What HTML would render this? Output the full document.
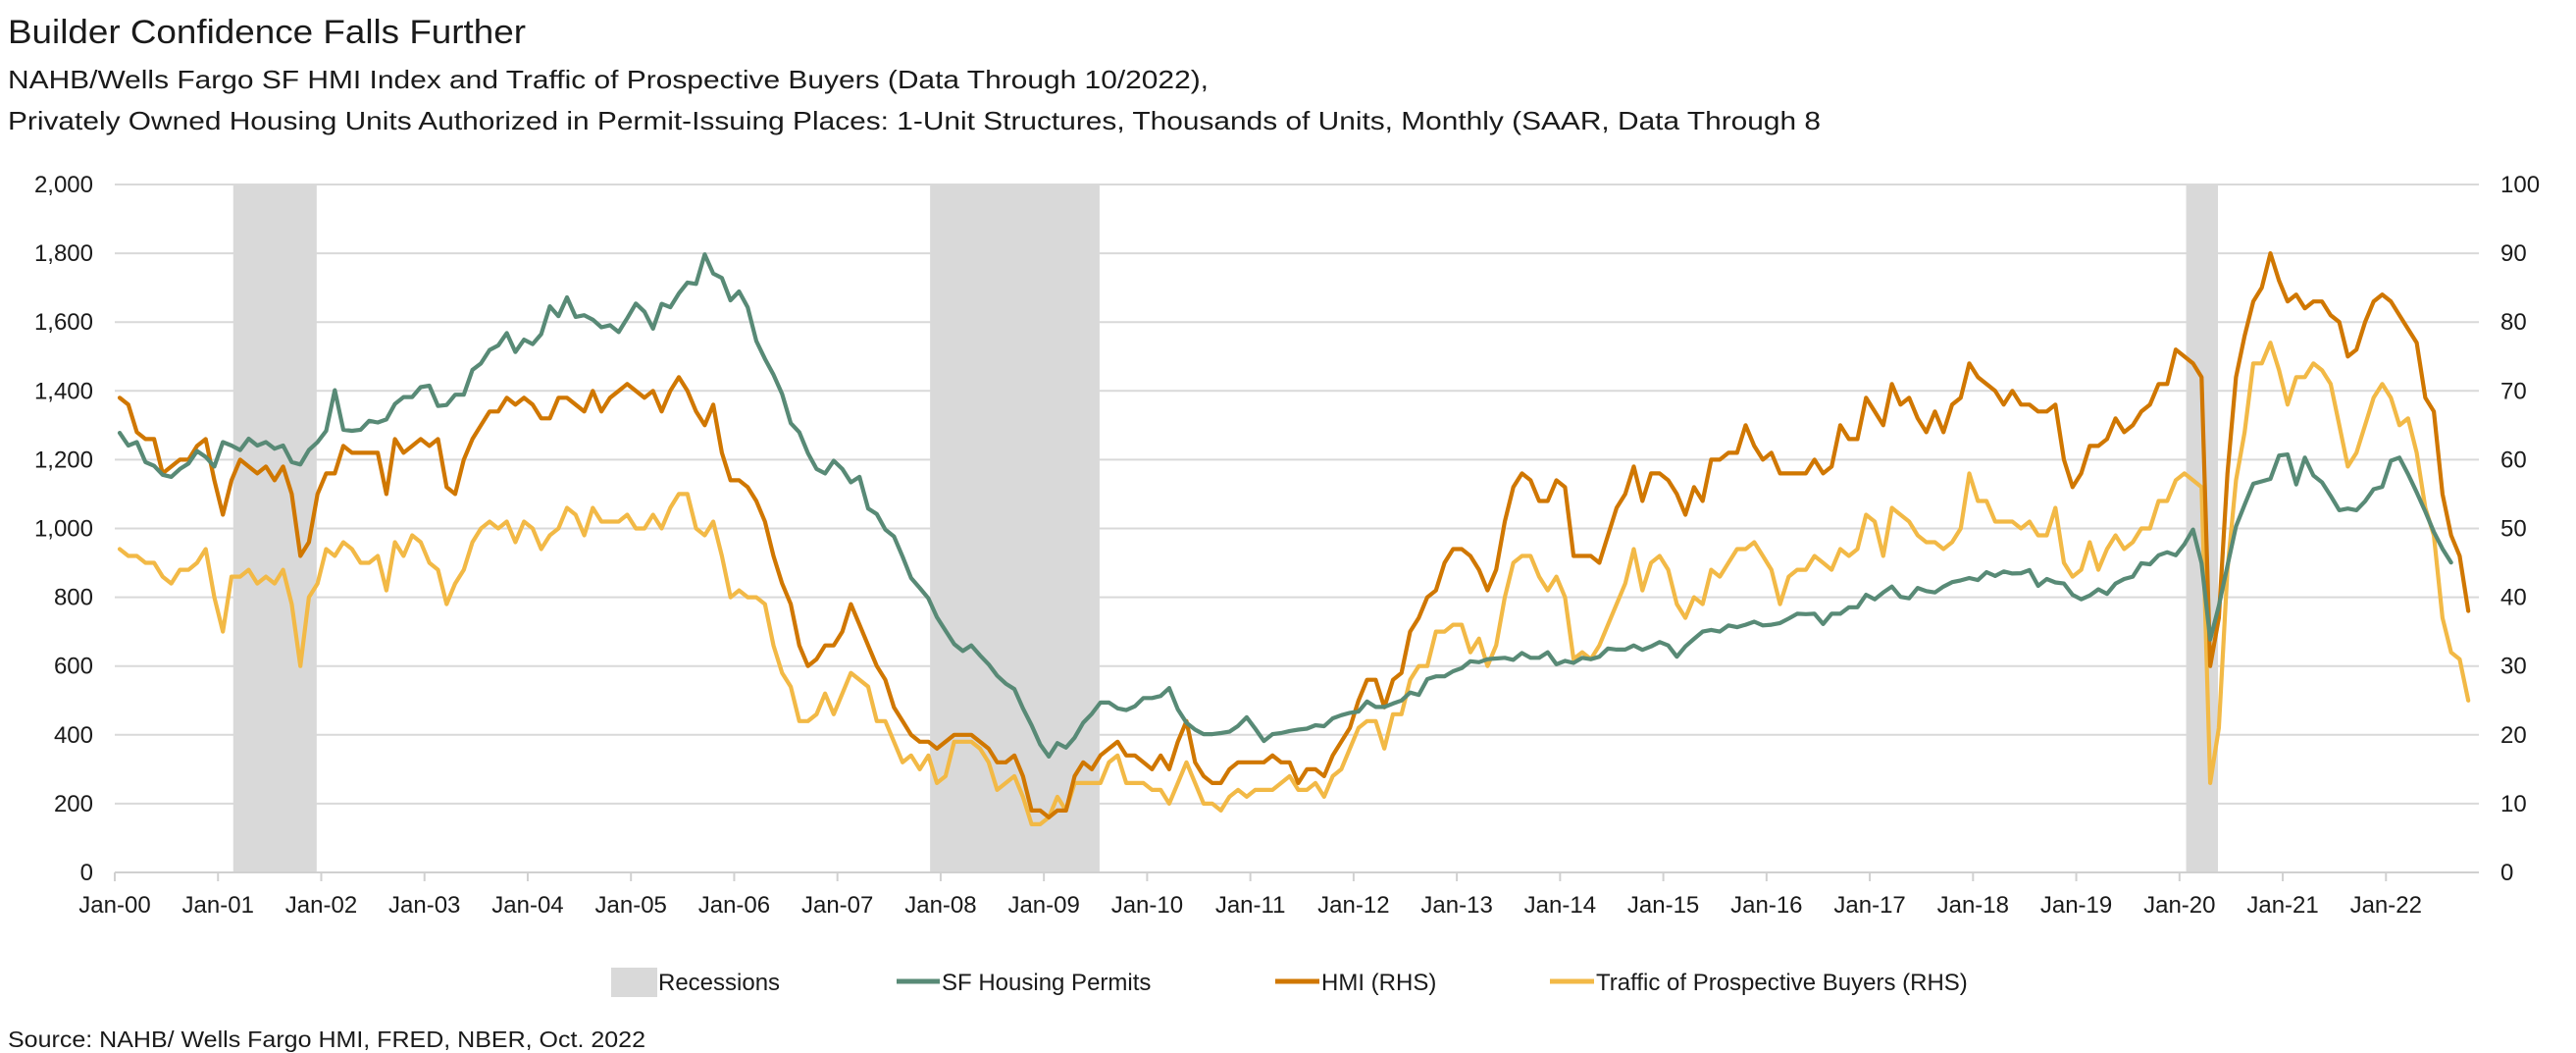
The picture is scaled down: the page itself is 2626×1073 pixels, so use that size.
<!DOCTYPE html>
<html>
<head>
<meta charset="utf-8">
<style>
html,body{margin:0;padding:0;background:#fff;}
svg{display:block;}
text{font-family:"Liberation Sans",Arial,sans-serif;fill:#1a1a1a;}
</style>
</head>
<body>
<svg id="chart" width="2626" height="1073" viewBox="0 0 2626 1073" xmlns="http://www.w3.org/2000/svg">
  <text x="8" y="44" font-size="34" textLength="528" lengthAdjust="spacingAndGlyphs">Builder Confidence Falls Further</text>
  <text x="8" y="90" font-size="26" textLength="1224" lengthAdjust="spacingAndGlyphs">NAHB/Wells Fargo SF HMI Index and Traffic of Prospective Buyers (Data Through 10/2022),</text>
  <text x="8" y="132" font-size="26" textLength="1848" lengthAdjust="spacingAndGlyphs">Privately Owned Housing Units Authorized in Permit-Issuing Places: 1-Unit Structures, Thousands of Units, Monthly (SAAR, Data Through 8</text>
  <g id="recessions"></g>
  <g id="grid"></g>
  <g id="axes"></g>
  <g id="series"></g>
  <g>
    <rect x="623" y="986" width="47" height="30" fill="#d9d9d9"/>
    <text x="671" y="1009" font-size="24">Recessions</text>
    <line x1="914" y1="1000" x2="958" y2="1000" stroke="#588a76" stroke-width="5"/>
    <text x="960" y="1009" font-size="24">SF Housing Permits</text>
    <line x1="1300" y1="1000" x2="1345" y2="1000" stroke="#d07700" stroke-width="5"/>
    <text x="1347" y="1009" font-size="24">HMI (RHS)</text>
    <line x1="1580" y1="1000" x2="1625" y2="1000" stroke="#f2b946" stroke-width="5"/>
    <text x="1627" y="1009" font-size="24">Traffic of Prospective Buyers (RHS)</text>
  </g>
  <text x="8" y="1067" font-size="23" textLength="650" lengthAdjust="spacingAndGlyphs">Source: NAHB/ Wells Fargo HMI, FRED, NBER, Oct. 2022</text>
</svg>
<script>
const leftTicks = [0,200,400,600,800,1000,1200,1400,1600,1800,2000];
const leftTickLabels = ["0","200","400","600","800","1,000","1,200","1,400","1,600","1,800","2,000"];
const rightTickLabels = ["0","10","20","30","40","50","60","70","80","90","100"];
const xTickLabels = ["Jan-00","Jan-01","Jan-02","Jan-03","Jan-04","Jan-05","Jan-06","Jan-07","Jan-08","Jan-09","Jan-10","Jan-11","Jan-12","Jan-13","Jan-14","Jan-15","Jan-16","Jan-17","Jan-18","Jan-19","Jan-20","Jan-21","Jan-22"];
const recessionStarts = [14, 95, 241];
const recessionEnds = [22, 113, 243];
const permits = [
1278,1241,1251,1193,1182,1156,1150,1173,1189,1225,1208,1180,
1251,1241,1228,1261,1241,1251,1232,1241,1193,1186,1228,1251,
1284,1402,1287,1284,1287,1313,1308,1317,1362,1382,1382,1411,
1415,1356,1359,1389,1389,1461,1480,1519,1532,1568,1513,1549,
1536,1565,1646,1617,1672,1615,1620,1607,1585,1591,1571,1611,
1654,1630,1581,1653,1643,1683,1715,1711,1797,1741,1728,1663,
1689,1643,1545,1493,1447,1391,1306,1280,1219,1173,1160,1197,
1173,1134,1150,1058,1042,997,977,918,856,827,797,742,
703,664,644,660,631,605,572,549,533,477,428,372,
337,376,363,392,435,461,494,494,477,472,483,507,
507,513,536,474,435,415,402,402,405,409,426,451,
418,382,402,405,411,415,418,428,425,448,457,464,
468,497,481,481,491,500,523,516,562,570,570,585,
594,614,611,620,622,624,618,638,624,624,640,605,
615,609,624,620,627,651,648,648,660,647,657,670,
660,627,657,679,700,705,700,718,713,720,729,718,
720,725,738,752,751,752,722,752,752,771,771,807,
794,814,831,801,797,827,818,814,831,844,849,856,
850,873,862,875,869,870,879,833,853,843,840,807,
794,805,823,810,840,853,860,899,896,922,931,922,
954,997,899,677,775,892,1006,1069,1130,1137,1144,1212,
1215,1128,1206,1154,1134,1095,1053,1058,1053,1079,1114,1121,
1197,1206,1158,1105,1049,990,941,901];
const hmi = [
69,68,64,63,63,58,59,60,60,62,63,57,
52,57,60,59,58,59,57,59,55,46,48,55,
58,58,62,61,61,61,61,55,63,61,62,63,
62,63,56,55,60,63,65,67,67,69,68,69,
68,66,66,69,69,68,67,70,67,69,70,71,
70,69,70,67,70,72,70,67,65,68,61,57,
57,56,54,51,46,42,39,33,30,31,33,33,
35,39,36,33,30,28,24,22,20,19,19,18,
19,20,20,20,19,18,16,16,17,14,9,9,
8,9,9,14,16,15,17,18,19,17,17,16,
15,17,15,19,22,16,14,13,13,15,16,16,
16,16,17,16,16,13,15,15,14,17,19,21,
25,28,28,24,28,29,35,37,40,41,45,47,
47,46,44,41,44,51,56,58,57,54,54,57,
56,46,46,46,45,49,53,55,59,54,58,58,
57,55,52,56,54,60,60,61,61,65,62,60,
61,58,58,58,58,60,58,59,65,63,63,69,
67,65,71,68,69,66,64,67,64,68,69,74,
72,71,70,68,70,68,68,67,67,68,60,56,
58,62,62,63,66,64,65,67,68,71,71,76,
75,74,72,30,37,58,72,78,83,85,90,86,
83,84,82,83,83,81,80,75,76,80,83,84,
83,81,79,77,69,67,55,49,46,38];
const traffic = [
47,46,46,45,45,43,42,44,44,45,47,40,
35,43,43,44,42,43,42,44,39,30,40,42,
47,46,48,47,45,45,46,41,48,46,49,48,
45,44,39,42,44,48,50,51,50,51,48,51,
50,47,49,50,53,52,49,53,51,51,51,52,
50,50,52,50,53,55,55,50,49,51,46,40,
41,40,40,39,33,29,27,22,22,23,26,23,
26,29,28,27,22,22,19,16,17,15,17,13,
14,19,19,19,18,16,12,13,14,11,7,7,
8,11,9,13,13,13,13,16,17,13,13,13,
12,12,10,13,16,13,10,10,9,11,12,11,
12,12,12,13,14,12,12,13,11,14,15,18,
21,22,22,18,23,23,28,30,30,35,35,36,
36,32,34,30,33,40,45,46,46,43,41,43,
40,31,32,31,33,36,39,42,47,41,45,46,
44,39,37,40,39,44,43,45,47,47,48,46,
44,39,43,44,44,46,45,44,47,46,47,52,
51,46,53,52,51,49,48,48,47,48,50,58,
54,54,51,51,51,50,51,49,49,53,45,43,
44,48,44,47,49,47,48,50,50,54,54,57,
58,57,56,13,21,44,57,64,74,74,77,73,
68,72,72,74,73,71,65,59,61,65,69,71,
69,65,66,61,53,49,37,32,31,25];

const NS = "http://www.w3.org/2000/svg";
const PL = 117, PR = 2527, PT = 188, PB = 889, X0 = 122, DX = 8.77;
function xM(i){ return X0 + i*DX; }
function yL(v){ return PB - (v/2000)*(PB-PT); }
function yR(v){ return PB - (v/100)*(PB-PT); }
function mk(tag, attrs, parent){
  const e = document.createElementNS(NS, tag);
  for (const k in attrs) e.setAttribute(k, attrs[k]);
  parent.appendChild(e);
  return e;
}
const gRec = document.getElementById('recessions');
for (let r=0; r<recessionStarts.length; r++){
  const x1 = xM(recessionStarts[r]-0.8), x2 = xM(recessionEnds[r]+0.9);
  const el = mk('rect', {x:x1, y:PT, width:x2-x1, height:PB-PT, fill:'#d9d9d9'}, gRec);
  
  
}
const gGrid = document.getElementById('grid');
const gAx = document.getElementById('axes');
for (let k=0; k<leftTicks.length; k++){
  const y = yL(leftTicks[k]);
  if (k>0){
    const gl = mk('line', {x1:PL, x2:PR, y1:y, y2:y, stroke:'#d9d9d9', 'stroke-width':2}, gGrid);
    
    
  }
  const lt = mk('text', {x:95, y:y+8, 'font-size':24, 'text-anchor':'end'}, gAx);
  lt.textContent = leftTickLabels[k];
  
  
  const rt = mk('text', {x:2549, y:y+8, 'font-size':24}, gAx);
  rt.textContent = rightTickLabels[k];
  
  
}
const axisLine = mk('line', {x1:PL, x2:PR, y1:PB, y2:PB, stroke:'#d0d0d0', 'stroke-width':2}, gAx);


for (let k=0; k<xTickLabels.length; k++){
  const x = PL + k*12*DX;
  const tk = mk('line', {x1:x, x2:x, y1:PB, y2:PB+9, stroke:'#d0d0d0', 'stroke-width':2}, gAx);
  
  
  const tx = mk('text', {x:x, y:930, 'font-size':24, 'text-anchor':'middle'}, gAx);
  tx.textContent = xTickLabels[k];
  
  
}
const gS = document.getElementById('series');
function drawLine(vals, yf, color, name){
  const pts = vals.map((v,i)=> xM(i).toFixed(1)+','+yf(v).toFixed(1)).join(' ');
  const pl = mk('polyline', {points:pts, fill:'none', stroke:color, 'stroke-width':4.2, 'stroke-linejoin':'round', 'stroke-linecap':'round'}, gS);
  
  
}
drawLine(traffic, yR, '#f2b946', 'traffic-line');
drawLine(hmi, yR, '#d07700', 'hmi-line');
drawLine(permits, yL, '#588a76', 'permits-line');
</script>
</body>
</html>
